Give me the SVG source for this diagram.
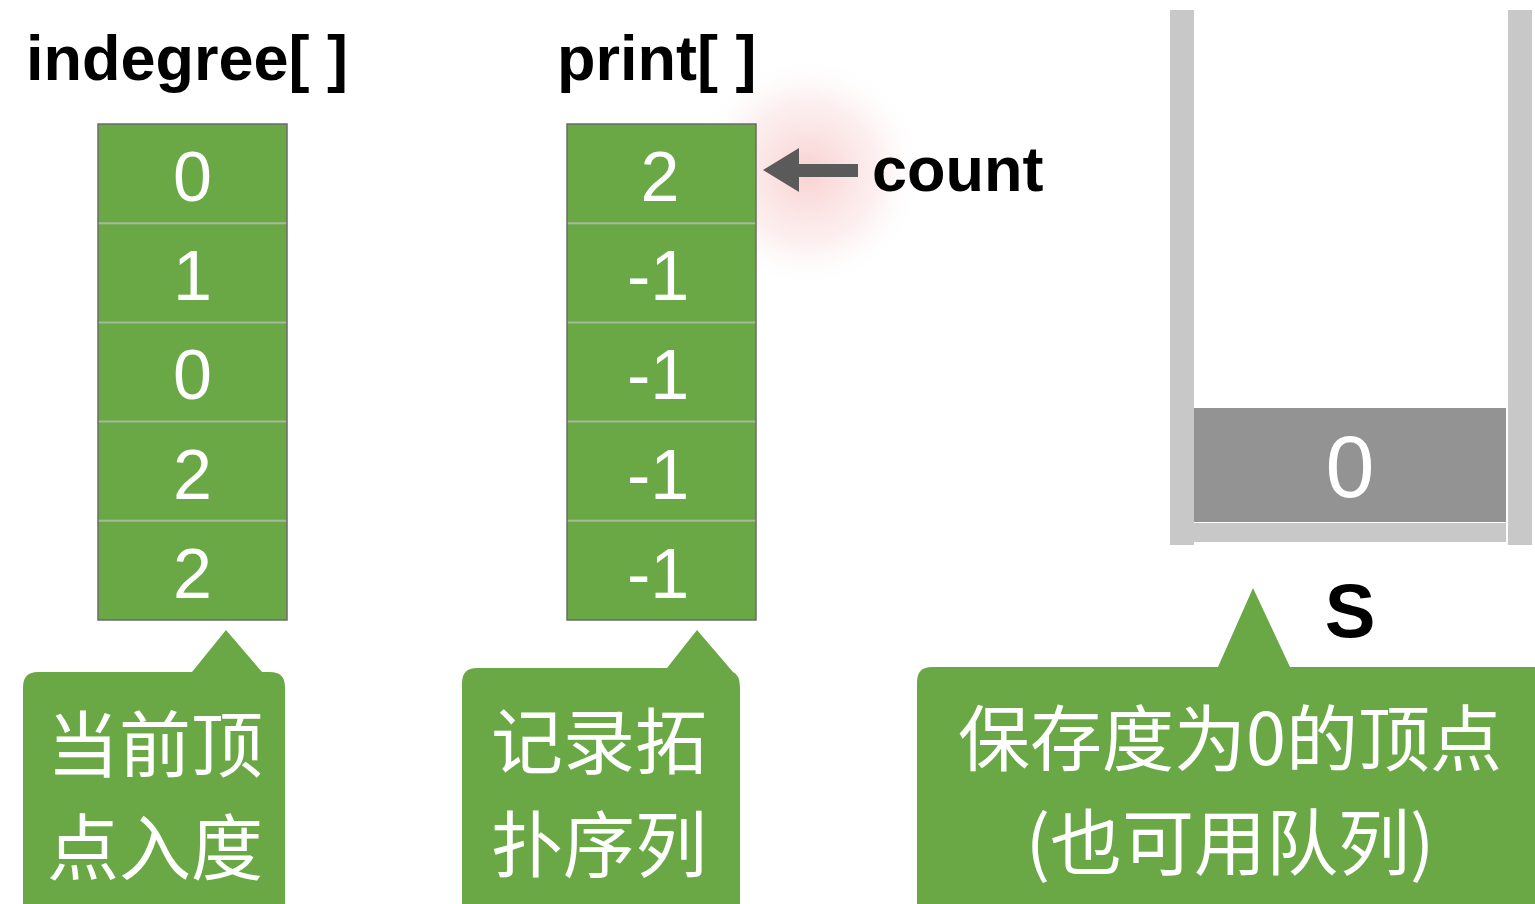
<svg xmlns="http://www.w3.org/2000/svg" width="1535" height="904" viewBox="0 0 1535 904">
<defs>
<style>
.title{font-family:"Liberation Sans",Arial,sans-serif;font-weight:bold;font-size:63px;fill:#000}
.cell{fill:#6aa846}
.num{font-family:"Liberation Sans",Arial,sans-serif;font-size:70px;fill:#fff;text-anchor:middle}
.sep{stroke:#a6b99b;stroke-width:2}
.frame{fill:none;stroke:#6b6b6b;stroke-width:1.5}
.wall{fill:#c8c8c8}
.callout{fill:#6aa846}
.ctext{font-family:"Noto Sans CJK SC","Noto Sans CJK JP",sans-serif;font-size:72px;fill:#fff;text-anchor:middle}
</style>
<radialGradient id="glow" cx="0.5" cy="0.5" r="0.5">
<stop offset="0" stop-color="#f3a3a3" stop-opacity="0.5"/>
<stop offset="0.6" stop-color="#f6c0c0" stop-opacity="0.25"/>
<stop offset="1" stop-color="#ffffff" stop-opacity="0"/>
</radialGradient>
</defs>
<rect width="1535" height="904" fill="#fff"/>
<circle cx="808" cy="172" r="118" fill="url(#glow)"/>

<g id="indegree-array">
<text class="title" x="26" y="80" textLength="322">indegree[ ]</text>
<rect class="cell" x="98" y="124" width="189" height="496"/>
<line class="sep" x1="98" y1="223.2" x2="287" y2="223.2"/>
<line class="sep" x1="98" y1="322.4" x2="287" y2="322.4"/>
<line class="sep" x1="98" y1="421.6" x2="287" y2="421.6"/>
<line class="sep" x1="98" y1="520.8" x2="287" y2="520.8"/>
<rect class="frame" x="98" y="124" width="189" height="496"/>
<text class="num" x="192.5" y="201">0</text>
<text class="num" x="192.5" y="300">1</text>
<text class="num" x="192.5" y="399">0</text>
<text class="num" x="192.5" y="499">2</text>
<text class="num" x="192.5" y="598">2</text>
</g>

<g id="print-array">
<text class="title" x="557" y="80">print[ ]</text>
<rect class="cell" x="567" y="124" width="189" height="496"/>
<line class="sep" x1="567" y1="223.2" x2="756" y2="223.2"/>
<line class="sep" x1="567" y1="322.4" x2="756" y2="322.4"/>
<line class="sep" x1="567" y1="421.6" x2="756" y2="421.6"/>
<line class="sep" x1="567" y1="520.8" x2="756" y2="520.8"/>
<rect class="frame" x="567" y="124" width="189" height="496"/>
<text class="num" x="660" y="201">2</text>
<text class="num" x="658" y="300">-1</text>
<text class="num" x="658" y="399">-1</text>
<text class="num" x="658" y="499">-1</text>
<text class="num" x="658" y="598">-1</text>
</g>

<g id="count-label">
<text class="title" x="872" y="191">count</text>
</g>

<g id="stack">
<rect class="wall" x="1170" y="10" width="24" height="535"/>
<rect class="wall" x="1508" y="10" width="24" height="535"/>
<rect class="wall" x="1194" y="523" width="312" height="19"/>
<rect x="1194" y="408" width="312" height="114" fill="#939393"/>
<text class="num" x="1350" y="497" style="font-size:88px">0</text>
<text class="title" x="1350" y="637" text-anchor="middle" style="font-size:76px">S</text>
</g>

<g id="callout-indegree">
<path class="callout" d="M23,687 Q23,672 38,672 L192,672 L226,630 L262,672 L270,672 Q285,672 285,687 L285,920 L23,920 Z"/>
<text class="ctext" x="155" y="771">当前顶</text>
<text class="ctext" x="155" y="874">点入度</text>
</g>

<g id="callout-print">
<path class="callout" d="M462,683 Q462,668 477,668 L667,668 L697,630 L733,672 Q740,675 740,688 L740,920 L462,920 Z"/>
<text class="ctext" x="599" y="768">记录拓</text>
<text class="ctext" x="599" y="871">扑序列</text>
</g>

<g id="callout-stack">
<path class="callout" d="M917,682 Q917,667 932,667 L1218,667 L1253,588 L1290,667 L1545,667 L1545,920 L917,920 Z"/>
<text class="ctext" x="1230" y="765">保存度为0的顶点</text>
<text class="ctext" x="1230" y="869">(也可用队列)</text>
</g>

<g id="connectors">
<path d="M763,170 L799,148 L799,164 L858,164 L858,177 L799,177 L799,192 Z" fill="#5a5a5a"/>
</g>
</svg>
